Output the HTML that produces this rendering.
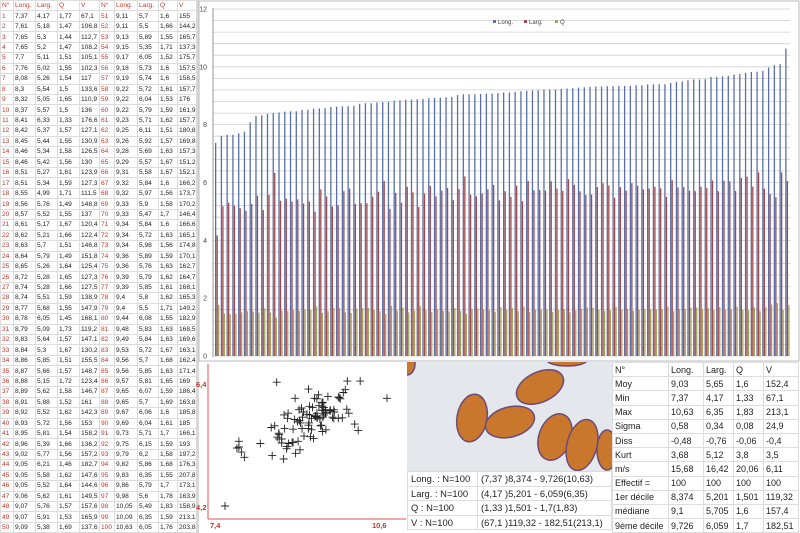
<!DOCTYPE html>
<html><head><meta charset="utf-8">
<style>
html,body{margin:0;padding:0;background:#fff;}
body{width:800px;height:533px;position:relative;overflow:hidden;font-family:"Liberation Sans",sans-serif;}
#tbl{position:absolute;left:0;top:0;border-collapse:collapse;font-size:6.6px;color:#222;}
#tbl td{height:9.45px;padding:0 0 0 1px;border:1px solid #dcdcdc;white-space:nowrap;line-height:9px;}
#tbl td.n{color:#c0392b;}
#tbl tr.h td{color:#c0392b;}
svg{position:absolute;}
#st{position:absolute;left:612px;top:362px;border-collapse:collapse;font-size:9px;color:#222;}
#st td{height:13.2px;padding:0 0 0 2px;border:1px solid #dcdcdc;white-space:nowrap;}
#inf{position:absolute;left:407px;top:471px;border-collapse:collapse;font-size:9.4px;color:#222;}
#inf td{height:13.5px;padding:0 0 0 3px;border:1px solid #dcdcdc;white-space:nowrap;}
</style></head><body>
<table id="tbl"></table>
<svg id="ch" width="604" height="362" style="left:196px;top:0"></svg>
<svg id="sc" width="211" height="171" style="left:196px;top:362px"></svg>
<svg width="205" height="109" style="left:407px;top:362px">
<rect width="205" height="109" fill="#e4e8ec"/>
<g fill="#c8772c" stroke="#6e4a78" stroke-width="1.5">
<ellipse cx="0" cy="2" rx="8" ry="11"/>
<ellipse cx="160" cy="-2" rx="20" ry="6"/>
<ellipse cx="133" cy="25" rx="25" ry="15" transform="rotate(-25 133 25)"/>
<ellipse cx="65" cy="56" rx="15" ry="24" transform="rotate(10 65 56)"/>
<ellipse cx="103" cy="60" rx="25" ry="15" transform="rotate(-15 103 60)"/>
<ellipse cx="148" cy="75" rx="16" ry="24" transform="rotate(20 148 75)"/>
<ellipse cx="175" cy="83" rx="15" ry="26" transform="rotate(15 175 83)"/>
<ellipse cx="200" cy="88" rx="10" ry="20"/>
</g></svg>
<table id="inf">
<tr><td style="width:66px">Long. : N=100</td><td style="width:130px">(7,37 )8,374 - 9,726(10,63)</td></tr>
<tr><td>Larg. : N=100</td><td>(4,17 )5,201 - 6,059(6,35)</td></tr>
<tr><td>Q : N=100</td><td>(1,33 )1,501 - 1,7(1,83)</td></tr>
<tr><td>V : N=100</td><td>(67,1 )119,32 - 182,51(213,1)</td></tr>
</table>
<table id="st">
<tr><td style="width:53px">N°</td><td style="width:32px">Long.</td><td style="width:27px">Larg.</td><td style="width:27px">Q</td><td style="width:32px">V</td></tr>
<tr><td>Moy</td><td>9,03</td><td>5,65</td><td>1,6</td><td>152,4</td></tr>
<tr><td>Min</td><td>7,37</td><td>4,17</td><td>1,33</td><td>67,1</td></tr>
<tr><td>Max</td><td>10,63</td><td>6,35</td><td>1,83</td><td>213,1</td></tr>
<tr><td>Sigma</td><td>0,58</td><td>0,34</td><td>0,08</td><td>24,9</td></tr>
<tr><td>Diss</td><td>-0,48</td><td>-0,76</td><td>-0,06</td><td>-0,4</td></tr>
<tr><td>Kurt</td><td>3,68</td><td>5,12</td><td>3,8</td><td>3,5</td></tr>
<tr><td>m/s</td><td>15,68</td><td>16,42</td><td>20,06</td><td>6,11</td></tr>
<tr><td>Effectif =</td><td>100</td><td>100</td><td>100</td><td>100</td></tr>
<tr><td>1er décile</td><td>8,374</td><td>5,201</td><td>1,501</td><td>119,32</td></tr>
<tr><td>médiane</td><td>9,1</td><td>5,705</td><td>1,6</td><td>157,4</td></tr>
<tr><td>9ème décile</td><td>9,726</td><td>6,059</td><td>1,7</td><td>182,51</td></tr>
</table>
<script>
var L=[7.37,7.61,7.65,7.65,7.7,7.76,8.08,8.3,8.32,8.37,8.41,8.42,8.45,8.46,8.46,8.51,8.51,8.55,8.56,8.57,8.61,8.62,8.63,8.64,8.65,8.72,8.74,8.74,8.77,8.78,8.79,8.83,8.84,8.86,8.87,8.88,8.89,8.91,8.92,8.93,8.95,8.96,9.02,9.05,9.05,9.05,9.06,9.07,9.07,9.09,9.11,9.11,9.13,9.15,9.17,9.18,9.19,9.22,9.22,9.22,9.23,9.25,9.26,9.28,9.29,9.31,9.32,9.32,9.33,9.33,9.34,9.34,9.34,9.36,9.36,9.39,9.39,9.4,9.4,9.44,9.48,9.49,9.53,9.56,9.56,9.57,9.65,9.65,9.67,9.69,9.73,9.75,9.79,9.82,9.83,9.86,9.98,10.05,10.09,10.63];
var W=[4.17,5.18,5.3,5.2,5.11,5.02,5.26,5.54,5.05,5.57,6.33,5.37,5.44,5.34,5.42,5.27,5.34,4.99,5.76,5.52,5.17,5.21,5.7,5.79,5.26,5.28,5.28,5.51,5.68,6.05,5.09,5.64,5.3,5.85,5.66,5.15,5.62,5.88,5.52,5.72,5.81,5.39,5.77,6.21,5.58,5.52,5.62,5.76,5.91,5.38,5.7,5.5,5.89,5.35,6.05,5.73,5.74,5.72,6.04,5.79,5.71,6.11,5.92,5.69,5.57,5.58,5.84,5.97,5.9,5.47,5.84,5.72,5.98,5.89,5.76,5.79,5.85,5.8,5.5,6.08,5.83,5.84,5.72,5.7,5.85,5.81,6.07,5.7,6.06,6.04,5.71,6.15,6.2,5.86,6.35,5.79,5.6,5.49,6.35,6.05];
var Q=[1.77,1.47,1.44,1.47,1.51,1.55,1.54,1.5,1.65,1.5,1.33,1.57,1.55,1.58,1.56,1.61,1.59,1.71,1.49,1.55,1.67,1.66,1.51,1.49,1.64,1.65,1.66,1.59,1.55,1.45,1.73,1.57,1.67,1.51,1.57,1.72,1.58,1.52,1.62,1.56,1.54,1.66,1.56,1.46,1.62,1.64,1.61,1.57,1.53,1.69,1.6,1.66,1.55,1.71,1.52,1.6,1.6,1.61,1.53,1.59,1.62,1.51,1.57,1.63,1.67,1.67,1.6,1.56,1.58,1.7,1.6,1.63,1.56,1.59,1.63,1.62,1.61,1.62,1.71,1.55,1.63,1.63,1.67,1.68,1.63,1.65,1.59,1.69,1.6,1.61,1.7,1.59,1.58,1.68,1.55,1.7,1.78,1.83,1.59,1.76];
var V=[67.1,106.8,112.7,108.2,105.1,102.3,117,133.6,110.9,136,176.6,127.1,130.9,126.5,130,123.9,127.3,111.5,148.8,137,120.4,122.4,146.8,151.8,125.4,127.3,127.5,138.9,147.9,168.1,119.2,147.1,130.2,155.5,148.7,123.4,146.7,161,142.3,153,158.2,136.2,157.2,182.7,147.6,144.6,149.5,157.6,165.9,137.6,155,144.2,165.7,137.3,175.7,157.5,158.5,157.7,176,161.9,157.7,180.8,169.8,157.3,151.2,152.1,166.2,173.7,170.2,146.4,166.6,165.1,174.8,170.1,162.7,164.7,168.1,165.3,149.2,182.9,168.5,169.6,163.1,162.4,171.4,169,186.4,163.8,185.8,185,166.1,193,197.2,176.3,207.8,173.1,163.9,158.9,213.1,203.8];
function f(v){return String(v).replace('.',',');}
var h='<tr class="h"><td style="width:11px">N°</td><td style="width:20px">Long.</td><td style="width:20px">Larg.</td><td style="width:20px">Q</td><td style="width:18px">V</td><td style="width:13px">N°</td><td style="width:21px">Long.</td><td style="width:19px">Larg.</td><td style="width:17px">Q</td><td style="width:22px">V</td></tr>';
for(var i=0;i<50;i++){var j=i+50;h+='<tr><td class="n">'+(i+1)+'</td><td>'+f(L[i])+'</td><td>'+f(W[i])+'</td><td>'+f(Q[i])+'</td><td>'+f(V[i])+'</td><td class="n">'+(j+1)+'</td><td>'+f(L[j])+'</td><td>'+f(W[j])+'</td><td>'+f(Q[j])+'</td><td>'+f(V[j])+'</td></tr>';}
document.getElementById('tbl').innerHTML=h;
var s='<rect x="0" y="0" width="604" height="362" fill="#fff"/><rect x="0" y="0" width="3" height="362" fill="#d8d8d8"/><rect x="3" y="1" width="600" height="360" fill="none" stroke="#bbb"/>';
var y0=356,k=28.92,x0=17;
for(var g=0;g<=30;g++){var y=y0-g*0.4*k;s+='<line x1="'+x0+'" x2="594" y1="'+y.toFixed(1)+'" y2="'+y.toFixed(1)+'" stroke="#cfcfcf" stroke-width="0.8"/>';}
s+='<line x1="'+x0+'" x2="'+x0+'" y1="8" y2="357" stroke="#999"/>';
for(var t=0;t<=12;t+=2){s+='<text x="11" y="'+(y0-t*k+2.5).toFixed(1)+'" font-size="7" text-anchor="end" fill="#444">'+t+'</text>';}
var gw=5.76;
for(var i=0;i<100;i++){var bx=x0+2+i*gw;
s+='<rect x="'+bx.toFixed(2)+'" y="'+(y0-L[i]*k).toFixed(1)+'" width="1.3" height="'+(L[i]*k).toFixed(1)+'" fill="#5a6fa8"/>';
s+='<rect x="'+(bx+1.5).toFixed(2)+'" y="'+(y0-W[i]*k).toFixed(1)+'" width="1.3" height="'+(W[i]*k).toFixed(1)+'" fill="#a3484a"/>';
s+='<rect x="'+(bx+3).toFixed(2)+'" y="'+(y0-Q[i]*k).toFixed(1)+'" width="1.3" height="'+(Q[i]*k).toFixed(1)+'" fill="#a8a457"/>';}
s+='<rect x="297" y="20" width="3" height="3" fill="#5a6fa8"/><text x="302" y="24" font-size="6" fill="#444">Long.</text>';
s+='<rect x="328" y="20" width="3" height="3" fill="#a3484a"/><text x="333" y="24" font-size="6" fill="#444">Larg.</text>';
s+='<rect x="359" y="20" width="3" height="3" fill="#a8a457"/><text x="364" y="24" font-size="6" fill="#444">Q</text>';
document.getElementById('ch').innerHTML=s;
var c='<rect width="211" height="171" fill="#fff"/><rect x="0" y="0" width="3" height="171" fill="#d8d8d8"/>';
c+='<line x1="12" y1="2" x2="12" y2="157" stroke="#e05050"/><line x1="12" y1="157" x2="210" y2="157" stroke="#e05050"/>';
c+='<text x="0" y="25" font-size="7.5" font-weight="bold" fill="#c0392b">6,4</text><text x="0" y="148" font-size="7.5" font-weight="bold" fill="#c0392b">4,2</text>';
c+='<text x="14" y="166" font-size="7.5" font-weight="bold" fill="#c0392b">7,4</text><text x="176" y="166" font-size="7.5" font-weight="bold" fill="#c0392b">10,6</text>';
for(var i=0;i<100;i++){var px=29+(L[i]-7.37)*49.7,py=144-(W[i]-4.17)*57.3;
c+='<path d="M'+(px-4).toFixed(1)+' '+py.toFixed(1)+'h8M'+px.toFixed(1)+' '+(py-4).toFixed(1)+'v8" stroke="#222" stroke-width="0.9"/>';}
document.getElementById('sc').innerHTML=c;
</script>
</body></html>
